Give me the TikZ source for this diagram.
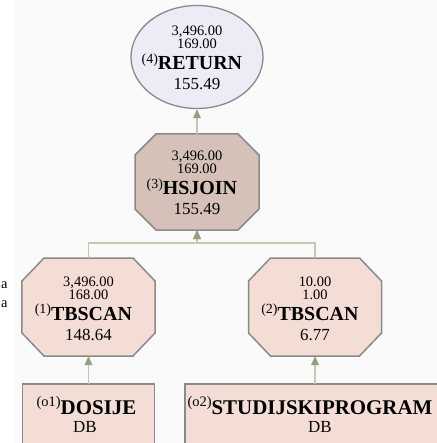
\documentclass[tikz,border=0pt]{standalone}
\usepackage{fontspec}
\setmainfont{Liberation Serif}
\usetikzlibrary{calc,arrows.meta,shapes.geometric}

\definecolor{pagebg}{HTML}{FAFAFA}
\definecolor{retfill}{HTML}{ECECF7}
\definecolor{joinfill}{HTML}{D5C1B7}
\definecolor{scanfill}{HTML}{F3DDD5}
\definecolor{objfill}{HTML}{F3DDD5}
\definecolor{edgegray}{HTML}{8A8A8A}
\definecolor{linkcol}{HTML}{C3C7B4}
\definecolor{tipcol}{HTML}{95A083}

\newcommand\numsize{\fontsize{14.5}{14.5}\selectfont}
\newcommand\costsize{\fontsize{17}{17}\selectfont}
\newcommand\opsize{\fontsize{20}{20}\selectfont}
\newcommand\objsize{\fontsize{21}{21}\selectfont}
\newcommand\idxsize{\fontsize{14}{14}\selectfont}
\newcommand\objidxsize{\fontsize{14.5}{14.5}\selectfont}

\tikzset{
  txt/.style={inner sep=0pt, outer sep=0pt, anchor=base, text=black},
  numtxt/.style={txt, font=\numsize},
  costtxt/.style={txt, font=\costsize},
  optxt/.style={txt, font=\opsize\bfseries},
  idxtxt/.style={txt, anchor=base east, font=\idxsize, yshift=7pt},
  objtxt/.style={txt, font=\objsize},
  dbtxt/.style={txt, font=\fontsize{17}{17}\selectfont},
  frame/.style={draw=none, fill=none, inner sep=0pt, outer sep=0pt},
  octo/.style={draw=edgegray, line width=1.5bp, line join=miter},
  retshape/.style={ellipse, draw=edgegray, line width=1.3bp, fill=retfill,
    inner sep=0pt, minimum width=132bp, minimum height=103bp},
  objbox/.style={rectangle, draw=edgegray, line width=1.9bp, fill=objfill,
    inner sep=0pt, outer sep=0pt},
  link/.style={draw=linkcol, line width=1.5bp,
    -{Triangle[length=9bp,width=7.5bp,color=tipcol]}},
}

% chamfered outline drawn round a named frame node
\newcommand\octoframe[4]{% node, fill, chamfer x, chamfer y
  \filldraw[octo, fill=#2]
    ($(#1.north west)+(#3,0)$) -- ($(#1.north east)+(-#3,0)$)
    -- ($(#1.north east)+(0,#4)$) -- ($(#1.south east)+(0,-#4)$)
    -- ($(#1.south east)+(-#3,0)$) -- ($(#1.south west)+(#3,0)$)
    -- ($(#1.south west)+(0,-#4)$) -- ($(#1.north west)+(0,#4)$) -- cycle;}

% the four text rows of an operator
\newcommand\opinfo[8]{% node, x, y, rows, card, index, operator, cost
  \node[numtxt]  (#1-rows) at (#2,#3-21) {#4};
  \node[numtxt]  (#1-card) at (#2,#3-8)  {#5};
  \node[optxt]   (#1-name) at (#2+3,#3+13) {#7};
  \node[idxtxt]  (#1-idx)  at (#1-name.base west) {#6};
  \node[costtxt] (#1-cost) at (#2,#3+33) {#8};}

\begin{document}
\begin{tikzpicture}[x=1bp,y=-1bp]
  \useasboundingbox (0,0) rectangle (437,443);
  \clip (0,0) rectangle (437,443);
  \fill[white] (0,0) rectangle (437,443);
  \fill[pagebg] (15,0) rectangle (437,443);

  % text running in from the left margin
  \node[txt, anchor=base west, font=\numsize] (side1) at (1,288) {a};
  \node[txt, anchor=base west, font=\numsize] (side2) at (1,307) {a};

  % operators
  \node[retshape] (ret) at (197,57) {};
  \opinfo{ret}{197}{57}{3,496.00}{169.00}{(4)}{RETURN}{155.49}

  \node[frame, minimum width=124bp, minimum height=96bp] (hs) at (197,182) {};
  \octoframe{hs}{joinfill}{21}{21}
  \opinfo{hs}{197}{182}{3,496.00}{169.00}{(3)}{HSJOIN}{155.49}

  \node[frame, minimum width=133bp, minimum height=98bp] (tb1) at (88.5,307) {};
  \octoframe{tb1}{scanfill}{22}{23}
  \opinfo{tb1}{88.5}{307}{3,496.00}{168.00}{(1)}{TBSCAN}{148.64}

  \node[frame, minimum width=133bp, minimum height=98bp] (tb2) at (315,307) {};
  \octoframe{tb2}{scanfill}{22}{23}
  \opinfo{tb2}{315}{307}{10.00}{1.00}{(2)}{TBSCAN}{6.77}

  % base objects
  \node[objbox, minimum width=132bp, minimum height=90bp, anchor=north] (dos) at (88.5,384) {};
  \node[objtxt] (dos-name) at (86.5,414)
    {\raisebox{8pt}{\objidxsize(o1)}\textbf{DOSIJE}};
  \node[dbtxt] (dos-db) at (85,432) {DB};

  \node[objbox, minimum width=260bp, minimum height=90bp, anchor=north] (stp) at (315,384) {};
  \node[objtxt] (stp-name) at (310,414)
    {\raisebox{8pt}{\objidxsize(o2)}\textbf{STUDIJSKIPROGRAM}};
  \node[dbtxt] (stp-db) at (320,432) {DB};

  % connectors
  \coordinate (join) at (197,243);
  \draw[link] (hs.north) -- (ret.south);
  \draw[link] (tb1.north) |- (join) -- (hs.south);
  \draw[link] (tb2.north) |- (join) -- (hs.south);
  \draw[link] (dos.north) -- (tb1.south);
  \draw[link] (stp.north) -- (tb2.south);
\end{tikzpicture}
\end{document}
